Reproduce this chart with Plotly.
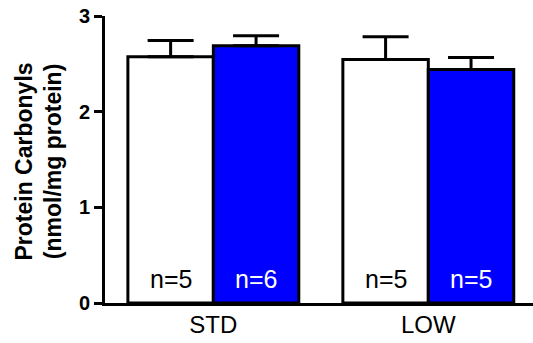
import plotly.graph_objects as go

categories = ["STD", "LOW"]
white_values = [2.573, 2.546]
white_err = [0.172, 0.236]
blue_values = [2.688, 2.441]
blue_err = [0.105, 0.126]
white_n = ["n=5", "n=5"]
blue_n = ["n=6", "n=5"]
y_ticks = [0, 1, 2, 3]
y_title = "Protein Carbonyls<br>(nmol/mg protein)"

FONT = "Arial, Liberation Sans, Helvetica, sans-serif"
BARGAP = 0.205

fig = go.Figure()
fig.add_trace(go.Bar(
    x=categories, y=white_values,
    marker=dict(color="white", line=dict(color="black", width=3)),
    error_y=dict(type="data", array=white_err, arrayminus=[0, 0], symmetric=False,
                 color="black", thickness=3, width=23),
    showlegend=False,
))
fig.add_trace(go.Bar(
    x=categories, y=blue_values,
    marker=dict(color="#0000FF", line=dict(color="black", width=3)),
    error_y=dict(type="data", array=blue_err, arrayminus=[0, 0], symmetric=False,
                 color="black", thickness=3, width=23),
    showlegend=False,
))

# n= labels at the base of each bar (bar centre derived from the group layout)
off = (1 - BARGAP) / 4
for i in range(len(categories)):
    for sign, txt, col in ((-1, white_n[i], "black"), (1, blue_n[i], "white")):
        fig.add_annotation(
            x=i + sign * off, y=0, xref="x", yref="y",
            text=txt, showarrow=False, yanchor="bottom", xanchor="center",
            yshift=8, font=dict(family=FONT, size=25, color=col),
        )

fig.add_annotation(
    x=0, y=0.5, xref="paper", yref="paper", xanchor="center", yanchor="middle",
    xshift=-67, yshift=-2, textangle=-90, text=y_title, showarrow=False,
    font=dict(family=FONT, size=23, color="black", weight="bold"),
)

fig.update_layout(
    width=533, height=343,
    margin=dict(l=105, r=0, t=16, b=40),
    paper_bgcolor="white", plot_bgcolor="white",
    barmode="group", bargap=BARGAP, bargroupgap=0,
    font=dict(family=FONT, color="black"),
)
fig.update_xaxes(
    range=[-0.504, 1.487], showline=True, linecolor="black", linewidth=3,
    ticks="", showgrid=False, zeroline=False, automargin=False,
    tickfont=dict(family=FONT, size=24, color="black"),
    ticklabelstandoff=-2,
)
fig.update_yaxes(
    range=[0, 3], tickvals=y_ticks, showline=True, linecolor="black", linewidth=3,
    ticks="outside", ticklen=8, tickwidth=3, tickcolor="black",
    showgrid=False, zeroline=False, automargin=False,
    tickfont=dict(family=FONT, size=20, color="black", weight="bold"),
)

fig.write_html("out.html", config={"displayModeBar": False},
               post_script="document.body.style.margin='0';")
